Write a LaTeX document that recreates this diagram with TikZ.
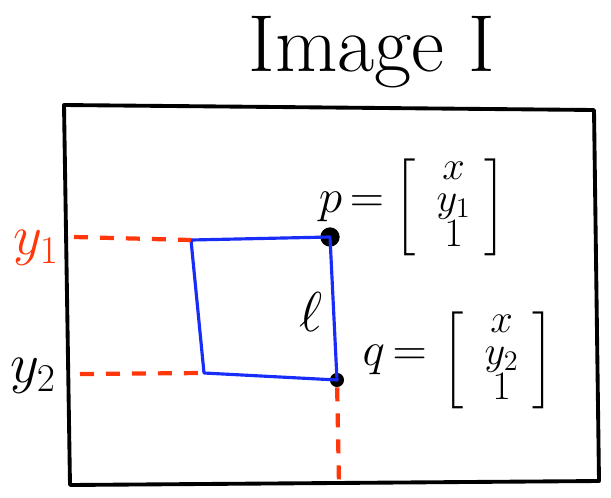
\RequirePackage{fix-cm}
\documentclass[tikz,border=0pt]{standalone}
\usepackage{amsmath,amssymb}
\usepackage{xcolor}
\usepackage{tikz}
\usetikzlibrary{positioning}

\definecolor{penred}{RGB}{255,55,10}
\definecolor{penblue}{RGB}{25,45,250}
\newcommand{\hvec}[1]{\left[\renewcommand{\arraystretch}{0.74}%
  \begin{array}{@{\hspace{12pt}}c@{\hspace{8pt}}}x\\#1\\1\end{array}\right]}

\begin{document}
\begin{tikzpicture}[x=0.02cm,y=-0.02cm,
  every node/.style={font=\fontsize{32}{36}\selectfont},
  vec/.style={anchor=west,font=\fontsize{23}{24}\selectfont},
  eqlab/.style={font=\fontsize{27}{30}\selectfont,inner sep=1pt},
  frame/.style={line width=2.2pt,line join=round},
  side/.style={penblue,line width=1.8pt,line join=round},
  proj/.style={penred,line width=2.4pt,dash pattern=on 0.28cm off 0.24cm},
  dot/.style={circle,fill,inner sep=0pt,minimum size=#1}]
\useasboundingbox (0,0) rectangle (611,497);
% title
\node[font=\fontsize{46}{50}\selectfont] (title) at (372,52) {Image I};
% image border
\coordinate (tl) at (64,105);
\coordinate (tr) at (594,110);
\coordinate (br) at (599,481);
\coordinate (bl) at (70,485);
\draw[frame] (tl) -- (tr) -- (br) -- (bl) -- cycle;
% the segment l and its box
\coordinate (a) at (191,240);
\coordinate (b) at (204,373);
\node[dot=11pt] (p) at (330,237) {};
\node[dot=8pt] (q) at (337,380) {};
\draw[side] (a) -- (p.center) -- (q.center) -- (b) -- cycle;
% projections onto the axes
\coordinate (y1) at (74,237);
\coordinate (y2) at (80,374);
\coordinate (xb) at (339,485);
\draw[proj] (y1) -- (a);
\draw[proj] (y2) -- (b);
\draw[proj] (q) -- (xb);
\node[text=penred] (y1lab) at (36,248) {$y_1$};
\node (y2lab) at (33,376) {$y_2$};
\node (ell) at (311,312) {$\ell$};
% homogeneous points
\node[vec] (pvec) at (388,207) {$\hvec{y_1}$};
\node[eqlab,left=1pt of pvec] (peq) {$p\,{=}$};
\node[vec] (qvec) at (436,360) {$\hvec{y_2}$};
\node[eqlab,left=4pt of qvec] (qeq) {$q\,{=}$};
\end{tikzpicture}
\end{document}
